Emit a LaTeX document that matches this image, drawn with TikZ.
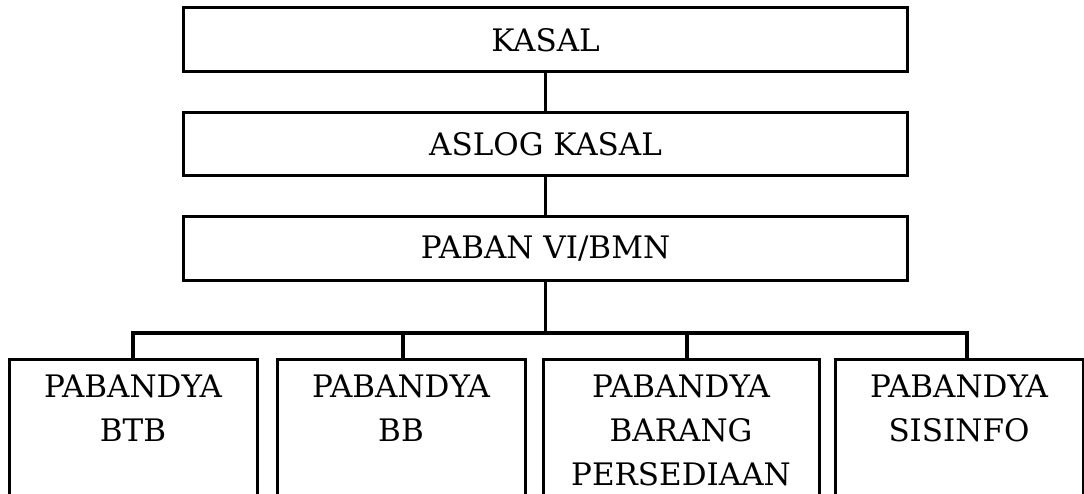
\documentclass[tikz,border=0pt]{standalone}
\usepackage{fontspec}
\setmainfont{DejaVu Serif}
\begin{document}
\begin{tikzpicture}[x=1pt,y=-1pt,
  box/.style={draw=black,line width=3pt,rectangle,inner sep=0pt,fill=white},
  txt/.style={inner sep=0pt,align=center,font=\fontsize{31}{44}\selectfont},
  conn/.style={draw=black,line width=3.3pt}]
\clip (0,0) rectangle (1084,494);
\fill[white] (0,0) rectangle (1084,494);
% top boxes
\node[box,minimum width=724pt,minimum height=64pt] (k) at (545.5,40) {};
\node[txt] (kt) at (k.center) {KASAL};
\node[box,minimum width=724pt,minimum height=63pt] (a) at (545.5,144.5) {};
\node[txt] (at) at (a.center) {ASLOG KASAL};
\node[box,minimum width=724pt,minimum height=64pt] (p) at (545.5,249) {};
\node[txt] (pt) at (p.center) {PABAN VI/BMN};
% bottom boxes
\node[box,anchor=north,minimum width=248pt,minimum height=200pt] (b1) at (133,358) {};
\node[box,anchor=north,minimum width=248pt,minimum height=200pt] (b2) at (401,358) {};
\node[box,anchor=north,minimum width=276pt,minimum height=200pt] (b3) at (681,358) {};
\node[box,anchor=north,minimum width=248pt,minimum height=200pt] (b4) at (959,358) {};
\node[txt,anchor=north] (t1) at ([yshift=-17pt]b1.north) {PABANDYA\\BTB};
\node[txt,anchor=north] (t2) at ([yshift=-17pt]b2.north) {PABANDYA\\BB};
\node[txt,anchor=north] (t3) at ([yshift=-17pt]b3.north) {PABANDYA\\BARANG\\PERSEDIAAN};
\node[txt,anchor=north] (t4) at ([yshift=-17pt]b4.north) {PABANDYA\\SISINFO};
% connectors
\coordinate (d1) at (133,333);
\coordinate (d2) at (403,333);
\coordinate (d3) at (687,333);
\coordinate (d4) at (967,333);
\draw[conn] (k.south) -- (a.north);
\draw[conn] (a.south) -- (p.north);
\draw[conn] (p.south) -- (p.south |- d1);
\draw[conn,line cap=rect] (d1) -- (d4);
\draw[conn] (d1) -- (d1 |- b1.north);
\draw[conn] (d2) -- (d2 |- b2.north);
\draw[conn] (d3) -- (d3 |- b3.north);
\draw[conn] (d4) -- (d4 |- b4.north);
\end{tikzpicture}
\end{document}
